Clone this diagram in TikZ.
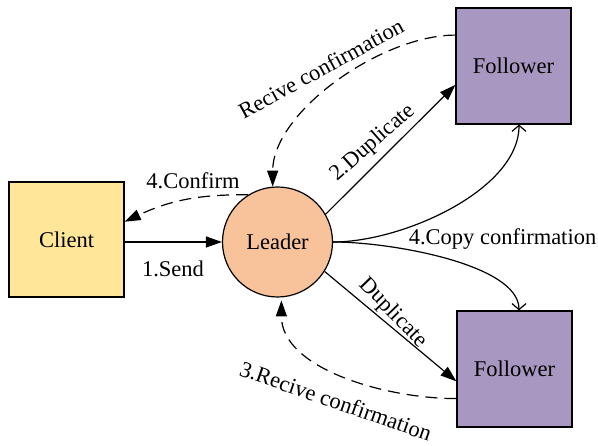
\documentclass[tikz,border=0pt]{standalone}
\usepackage{fontspec}
\setmainfont{Liberation Serif}
\usetikzlibrary{arrows.meta,calc}

\definecolor{clientfill}{RGB}{255,230,153}
\definecolor{leaderfill}{RGB}{248,195,155}
\definecolor{followerfill}{RGB}{168,151,192}

\tikzset{
  txt/.style={font=\rmfamily\fontsize{22.5}{27}\selectfont, inner sep=0pt},
  box/.style={txt, draw, line width=1.2pt, minimum width=115pt, minimum height=116pt},
  clientbox/.style={box, fill=clientfill, minimum height=115pt},
  followerbox/.style={box, fill=followerfill},
  leadernode/.style={txt, draw, line width=1.2pt, circle, fill=leaderfill, minimum size=110pt},
  conn/.style={line width=1.2pt},
  solidarrow/.style={conn, -{Triangle[length=16pt,width=11pt]}},
  dasharrow/.style={conn, dash pattern=on 12pt off 7pt, -{Triangle[length=16pt,width=11pt]}},
  openarrow/.style={conn, -{Straight Barb[length=6pt,width=14pt]}},
  lbl/.style={txt}
}

\begin{document}
\begin{tikzpicture}[x=1pt,y=1pt]
  \useasboundingbox (0,0) rectangle (598,446);

  % nodes
  \node[clientbox]   (client) at (66.5,206.5) {Client};
  \node[leadernode]  (leader) at (277.5,204)  {Leader};
  \node[followerbox] (f1)     at (513.5,380)  {Follower};
  \node[followerbox] (f2)     at (514.5,77)   {Follower};

  % client -> leader
  \draw[solidarrow] (client.east |- leader.west) -- (leader.west);
  \node[lbl, anchor=base] (lsend) at (173,169) {1.Send};

  % leader -> client confirmation
  \draw[dasharrow] (leader.122) to[bend right=13] (client.17);
  \node[lbl, anchor=base] (lconfirm) at (193,257) {4.Confirm};

  % leader -> upper follower
  \draw[solidarrow] (leader.30) -- (f1.198);
  \node[lbl, rotate=41.5] (ldup1) at (373,303) {2.Duplicate};

  % upper follower -> leader
  \draw[dasharrow] (f1.152) to[out=180,in=90,looseness=0.8] (leader.95);
  \node[lbl, rotate=28.7] (lrec1) at (321,377.5) {Recive confirmation};

  % copy confirmation curves
  \draw[openarrow] (leader.east) .. controls +(70,0) and +(0,-65) .. ([xshift=5.5pt]f1.south);
  \draw[openarrow] (leader.east) .. controls +(58,0) and +(0,46) .. ([xshift=4.5pt]f2.north);
  \node[lbl, anchor=base] (lcopy) at (502.5,201) {4.Copy confirmation};

  % leader -> lower follower
  \draw[solidarrow] (leader.-32) -- (f2.192);
  \node[lbl, rotate=-46] (ldup2) at (393,133) {Duplicate};

  % lower follower -> leader
  \draw[dasharrow, shorten >=3pt] (f2.207.5) to[out=180,in=-90,looseness=0.9] (leader.274);
  \node[lbl, rotate=-19.2] (lrec2) at (336,45) {3.Recive confirmation};
\end{tikzpicture}
\end{document}
